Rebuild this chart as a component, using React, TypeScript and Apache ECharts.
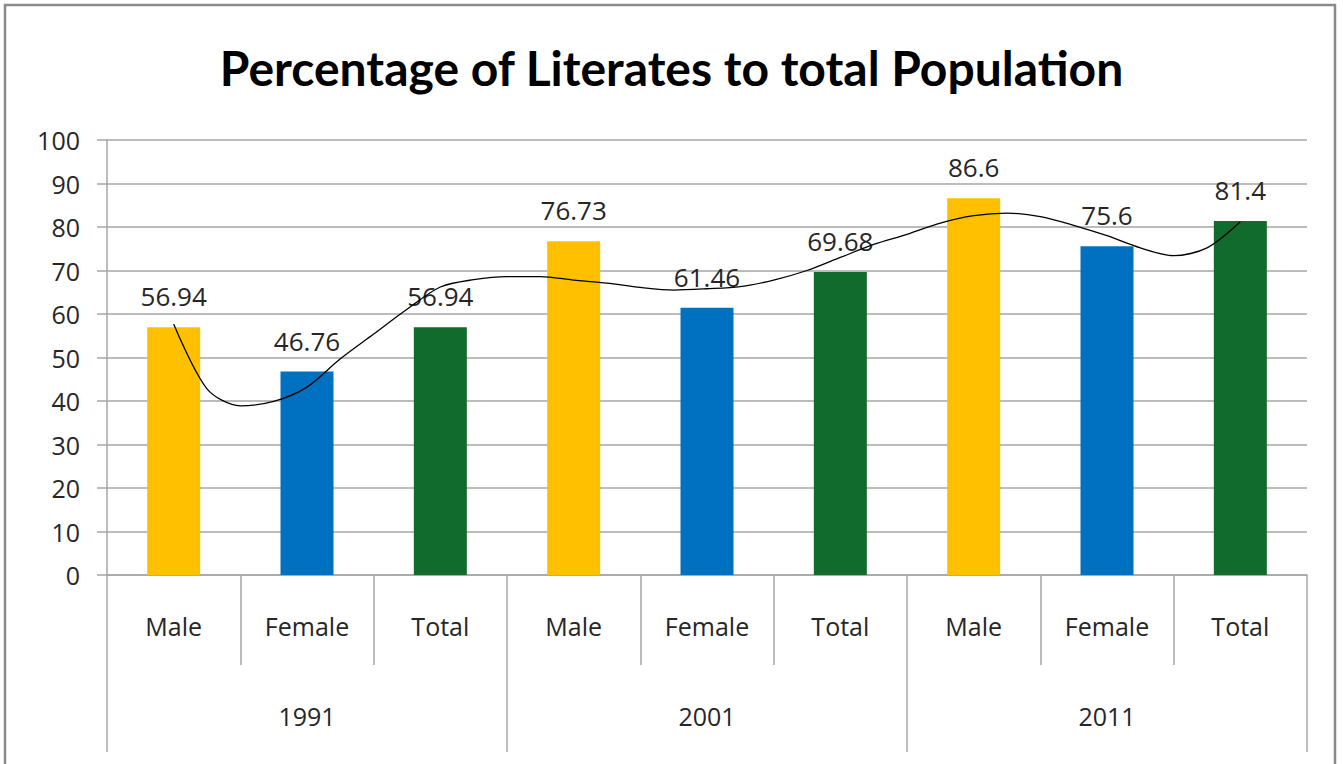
import React, { useEffect, useRef } from "react";
import * as echarts from "echarts";

const categories = ["Male", "Female", "Total", "Male", "Female", "Total", "Male", "Female", "Total"];
const years = ["1991", "2001", "2011"];
const values = [56.94, 46.76, 56.94, 76.73, 61.46, 69.68, 86.6, 75.6, 81.4];
const barColors = ["#FFC000", "#0070C0", "#116B2C", "#FFC000", "#0070C0", "#116B2C", "#FFC000", "#0070C0", "#116B2C"];
// trend curve, every quarter category: [category position, value]
const trendPoints: [number, number][] = [
  [0, 57.7], [0.25, 42.8], [0.5, 38.9], [0.75, 39.9], [1, 43.2], [1.25, 49.7], [1.5, 55.4], [1.75, 61.1],
  [2, 66.2], [2.25, 67.9], [2.5, 68.6], [2.75, 68.6], [3, 67.8], [3.25, 67.1], [3.5, 66.1], [3.75, 65.5],
  [4, 65.8], [4.25, 66.3], [4.5, 67.8], [4.75, 70], [5, 73], [5.25, 76], [5.5, 78.3], [5.75, 80.9],
  [6, 82.6], [6.25, 83.2], [6.5, 82.4], [6.75, 80.4], [7, 78], [7.25, 75.2], [7.5, 73.4], [7.75, 75.2],
  [8, 81.2],
];
const yTicks = { min: 0, max: 100, interval: 10 };

const FONT = "Open Sans";
const AXIS_GRAY = "#a6a6a6";

export default function App() {
  const ref = useRef<HTMLDivElement>(null);
  useEffect(() => {
    if (!ref.current) return;
    const chart = echarts.init(ref.current, undefined, { renderer: "svg" });
    chart.setOption({
      animation: false,
      backgroundColor: "#ffffff",
      title: {
        text: "Percentage of Literates to total Population",
        left: "center",
        top: 38,
        textStyle: { fontFamily: "Lato", fontWeight: "bold", fontSize: 48, color: "#000" },
      },
      graphic: [
        {
          type: "rect",
          shape: { x: 5, y: 5, width: 1330, height: 820 },
          style: { fill: "none", stroke: "#8a8a8a", lineWidth: 2.5 },
          silent: true,
        },
      ],
      grid: { left: 107, right: 36, top: 140, bottom: 189 },
      xAxis: [
        {
          type: "category",
          data: categories,
          position: "bottom",
          axisLine: { show: true, onZero: false, lineStyle: { color: AXIS_GRAY, width: 1.5 } },
          axisTick: { show: true, interval: 0, length: 90, lineStyle: { color: AXIS_GRAY, width: 1.5 } },
          axisLabel: { interval: 0, margin: 38, fontFamily: FONT, fontSize: 25, color: "#262626" },
        },
        {
          type: "category",
          data: years,
          position: "bottom",
          offset: 90,
          axisLine: { show: true, onZero: false, lineStyle: { color: "rgba(0,0,0,0)", width: 0 } },
          axisTick: { show: true, interval: 0, length: 87, lineStyle: { color: AXIS_GRAY, width: 1.5 } },
          axisLabel: { interval: 0, margin: 38, fontFamily: FONT, fontSize: 25, color: "#262626" },
        },
        { type: "value", min: -0.5, max: 8.5, show: false },
      ],
      yAxis: {
        type: "value",
        min: yTicks.min,
        max: yTicks.max,
        interval: yTicks.interval,
        axisLine: { show: true, onZero: false, lineStyle: { color: AXIS_GRAY, width: 1.5 } },
        axisTick: { show: true, length: 10, lineStyle: { color: AXIS_GRAY, width: 1.5 } },
        axisLabel: { margin: 27, fontFamily: FONT, fontSize: 25, color: "#262626" },
        splitLine: { show: true, lineStyle: { color: AXIS_GRAY, width: 1.5 } },
      },
      series: [
        {
          type: "bar",
          xAxisIndex: 0,
          barWidth: 53,
          data: values.map((v, i) => ({ value: v, itemStyle: { color: barColors[i] } })),
          label: {
            show: true,
            position: "top",
            distance: 18,
            fontFamily: FONT,
            fontSize: 26,
            color: "#262626",
          },
        },
        {
          type: "line",
          xAxisIndex: 2,
          data: trendPoints,
          smooth: 0.3,
          showSymbol: false,
          lineStyle: { color: "#000", width: 1.3 },
          z: 5,
        },
      ],
    });
    return () => chart.dispose();
  }, []);
  return <div ref={ref} style={{ position: "absolute", left: 0, top: 0, width: 1343, height: 764 }} />;
}
